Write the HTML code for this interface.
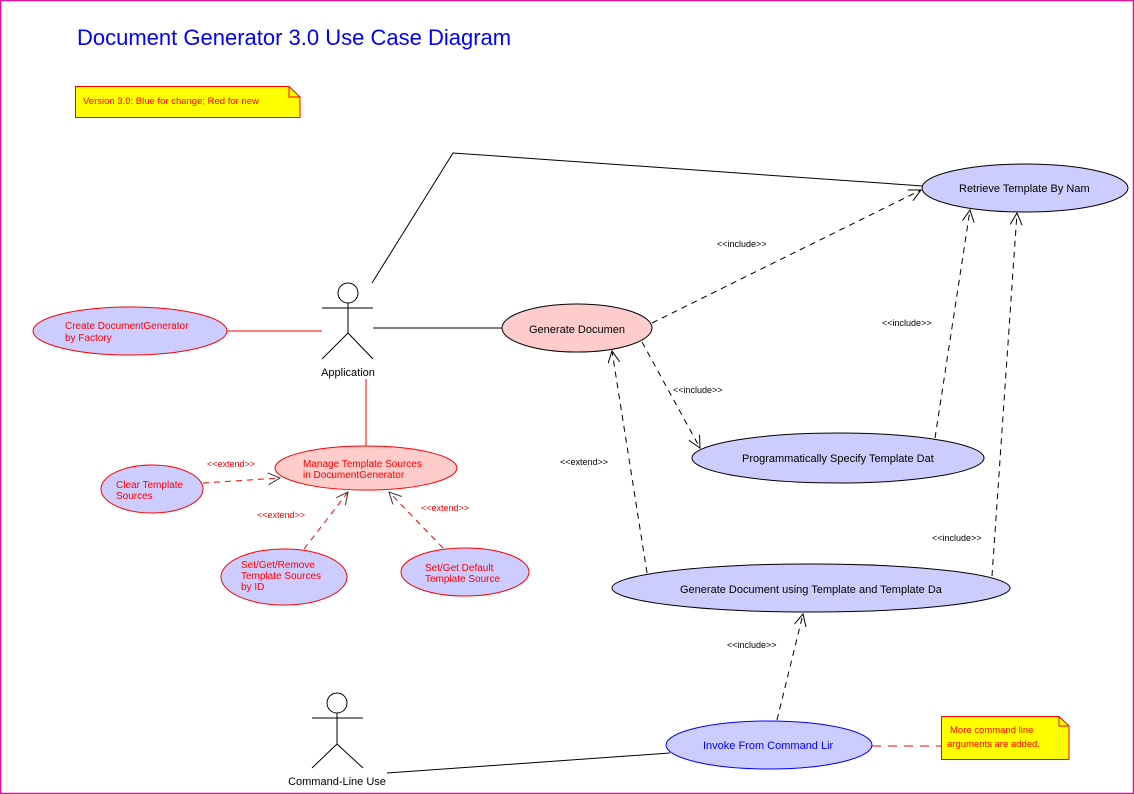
<!DOCTYPE html>
<html><head><meta charset="utf-8"><style>
html,body{margin:0;padding:0;background:#fff}
svg{display:block}
text{font-family:"Liberation Sans",Arial,sans-serif}
</style></head><body>
<svg width="1134" height="794" viewBox="0 0 1134 794" xmlns="http://www.w3.org/2000/svg">
<defs>
<marker id="a" markerWidth="14" markerHeight="14" refX="12" refY="6" orient="auto" markerUnits="userSpaceOnUse">
<path d="M0,0 L12,6 L0,12" fill="none" stroke="#000" stroke-width="1"/>
</marker>
<marker id="g" markerWidth="14" markerHeight="14" refX="12" refY="6" orient="auto" markerUnits="userSpaceOnUse">
<path d="M0,0 L12,6 L0,12" fill="none" stroke="#333" stroke-width="1"/>
</marker>
</defs>
<rect x="0.5" y="0.5" width="1133" height="793" fill="#fff" stroke="#e0109a" stroke-width="1.5"/>

<text x="77" y="45" font-size="22" fill="#0000ff">Document Generator 3.0 Use Case Diagram</text>

<path d="M75.5,86.5 H289 L300,97 V117.5 H75.5 Z" fill="#ffff00" stroke="#ff0000"/>
<path d="M289,86.5 V97 H300" fill="none" stroke="#ff0000"/>
<text x="83" y="104" font-size="9.5" fill="#ff0000">Version 3.0: Blue for change; Red for new</text>

<!-- lines -->
<polyline points="372,283 453,153 923,186" fill="none" stroke="#000"/>
<line x1="373" y1="328" x2="502" y2="328" stroke="#000"/>
<line x1="227" y1="331" x2="322" y2="331" stroke="#ff0000"/>
<line x1="366" y1="379" x2="366" y2="446" stroke="#ff0000"/>
<line x1="387" y1="773" x2="670" y2="753" stroke="#000"/>
<line x1="872" y1="746" x2="941" y2="746" stroke="#ff0000" stroke-dasharray="9,7"/>

<!-- dashed includes/extends -->
<g stroke="#000" stroke-dasharray="6,5" fill="none">
<line x1="652" y1="323" x2="921" y2="190" marker-end="url(#a)"/>
<line x1="642" y1="342" x2="700" y2="448" marker-end="url(#a)"/>
<line x1="935" y1="438" x2="970" y2="210" marker-end="url(#a)"/>
<line x1="992" y1="576" x2="1017" y2="213" marker-end="url(#a)"/>
<line x1="647" y1="573" x2="612" y2="351" marker-end="url(#a)"/>
<line x1="777" y1="720" x2="803" y2="614" marker-end="url(#a)"/>
</g>
<g stroke="#ff0000" stroke-dasharray="6,5" fill="none">
<line x1="203" y1="483" x2="280" y2="478" marker-end="url(#g)"/>
<line x1="304" y1="549" x2="348" y2="492" marker-end="url(#g)"/>
<line x1="443" y1="548" x2="389" y2="492" marker-end="url(#g)"/>
</g>

<!-- ellipses -->
<ellipse cx="130" cy="331" rx="97" ry="24" fill="#ccccff" stroke="#ff0000"/>
<ellipse cx="366" cy="468" rx="91" ry="22" fill="#ffcccc" stroke="#ff0000"/>
<ellipse cx="152" cy="489" rx="51" ry="24" fill="#ccccff" stroke="#ff0000"/>
<ellipse cx="284" cy="577" rx="63" ry="28" fill="#ccccff" stroke="#ff0000"/>
<ellipse cx="465" cy="572" rx="64" ry="24" fill="#ccccff" stroke="#ff0000"/>
<ellipse cx="577" cy="328" rx="75" ry="24" fill="#ffcccc" stroke="#000"/>
<ellipse cx="1025" cy="188" rx="103" ry="24" fill="#ccccff" stroke="#000"/>
<ellipse cx="838" cy="458" rx="146" ry="25" fill="#ccccff" stroke="#000"/>
<ellipse cx="811" cy="588" rx="199" ry="24" fill="#ccccff" stroke="#000"/>
<ellipse cx="769" cy="745" rx="103" ry="24" fill="#ccccff" stroke="#0000ff"/>

<!-- ellipse texts -->
<g font-size="10" fill="#ff0000">
<text x="65" y="329">Create DocumentGenerator</text>
<text x="65" y="341">by Factory</text>
<text x="303" y="467">Manage Template Sources</text>
<text x="303" y="478">in DocumentGenerator</text>
<text x="116" y="488">Clear Template</text>
<text x="116" y="499">Sources</text>
<text x="241" y="568">Set/Get/Remove</text>
<text x="241" y="579">Template Sources</text>
<text x="241" y="590">by ID</text>
<text x="425" y="571">Set/Get Default</text>
<text x="425" y="582">Template Source</text>
</g>
<g font-size="11" fill="#000">
<text x="529" y="333">Generate Documen</text>
<text x="959" y="192">Retrieve Template By Nam</text>
<text x="742" y="462">Programmatically Specify Template Dat</text>
<text x="680" y="593">Generate Document using Template and Template Da</text>
</g>
<text x="703" y="749" font-size="11" fill="#0000ff">Invoke From Command Lir</text>

<!-- stereotype labels -->
<g font-size="9" fill="#000">
<text x="717" y="247">&lt;&lt;include&gt;&gt;</text>
<text x="673" y="393">&lt;&lt;include&gt;&gt;</text>
<text x="882" y="326">&lt;&lt;include&gt;&gt;</text>
<text x="932" y="541">&lt;&lt;include&gt;&gt;</text>
<text x="560" y="465">&lt;&lt;extend&gt;&gt;</text>
<text x="727" y="648">&lt;&lt;include&gt;&gt;</text>
</g>
<g font-size="9" fill="#ff0000">
<text x="207" y="467">&lt;&lt;extend&gt;&gt;</text>
<text x="257" y="518">&lt;&lt;extend&gt;&gt;</text>
<text x="421" y="511">&lt;&lt;extend&gt;&gt;</text>
</g>

<!-- actors -->
<g stroke="#000" fill="none">
<circle cx="348" cy="293" r="10"/>
<line x1="348" y1="303" x2="348" y2="333"/>
<line x1="322" y1="308" x2="373" y2="308"/>
<line x1="348" y1="333" x2="322" y2="359"/>
<line x1="348" y1="333" x2="373" y2="359"/>
<circle cx="337" cy="703" r="10"/>
<line x1="337" y1="713" x2="337" y2="744"/>
<line x1="312" y1="718" x2="363" y2="718"/>
<line x1="337" y1="744" x2="312" y2="768"/>
<line x1="337" y1="744" x2="363" y2="768"/>
</g>
<text x="348" y="376" font-size="11" text-anchor="middle">Application</text>
<text x="337" y="785" font-size="11" text-anchor="middle">Command-Line Use</text>

<!-- note 2 -->
<path d="M941.5,716.5 H1059 L1069,726 V759.5 H941.5 Z" fill="#ffff00" stroke="#ff0000"/>
<path d="M1059,716.5 V726 H1069" fill="none" stroke="#ff0000"/>
<text x="950" y="733" font-size="9.5" fill="#ff0000">More command line</text>
<text x="947" y="747" font-size="9.5" fill="#ff0000">arguments are added.</text>
</svg>
</body></html>
